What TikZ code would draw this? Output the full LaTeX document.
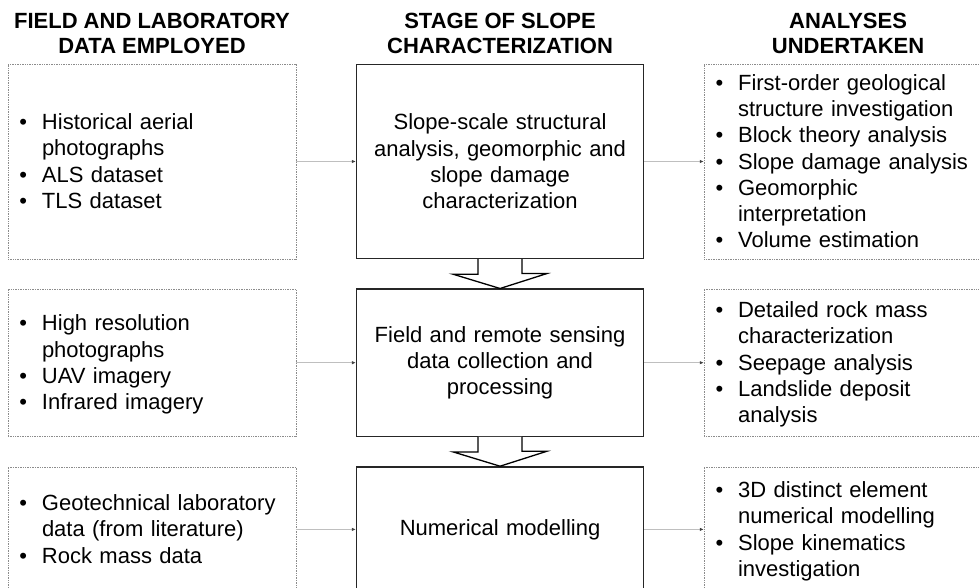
\documentclass[tikz,border=0pt]{standalone}
\usepackage{fontspec}
\setmainfont{Liberation Sans}
\usetikzlibrary{arrows.meta,positioning}

\providecommand{\slopeDotColor}{black!45}
\providecommand{\slopeFeedColor}{black!25}
\providecommand{\slopeTipColor}{black!75}
\providecommand{\slopeStageColor}{black!85}
% bullet rows: bullet column, then text column (first row padded a little)
\newcommand{\bulletrows}[1]{\begin{tabular}{@{}l@{\hspace{14.8pt}}l@{}}\rule{0pt}{23pt}#1\end{tabular}}

\begin{document}
\begin{tikzpicture}[
  every node/.style={font=\fontsize{22}{26.3}\selectfont},
  databox/.style={draw=\slopeDotColor, dash pattern=on 0.8pt off 0.9pt, line width=0.7pt,
    minimum width=288pt, text width=265pt, inner xsep=11.5pt, inner ysep=0pt, align=left},
  stagebox/.style={draw=\slopeStageColor, line width=1.4pt, minimum width=287pt,
    text width=272pt, align=center},
  header/.style={font=\fontsize{22}{25.5}\selectfont\bfseries, align=center, inner sep=0pt},
  feed/.style={draw=\slopeFeedColor, line width=0.8pt,
    -{Latex[length=4pt,width=3.5pt,color=\slopeTipColor]}},
  hollowarrow/.style={draw=black, line width=1.3pt, fill=white, line join=miter}
]
\useasboundingbox (0,0) rectangle (979pt,587pt);
\clip (0,0) rectangle (979pt,587pt);

% Row 1
\node[databox, minimum height=195pt] (d1) at (152pt,425.5pt) {\bulletrows{%
  \textbullet & Historical aerial\\
              & photographs\\
  \textbullet & ALS dataset\\
  \textbullet & TLS dataset}};
\node[stagebox, minimum height=194pt, right=59.5pt of d1] (s1) {Slope-scale structural\\analysis, geomorphic and\\slope damage\\characterization};
\node[databox, minimum height=195pt, right=59.5pt of s1] (a1) {\bulletrows{%
  \textbullet & First-order geological\\
              & structure investigation\\
  \textbullet & Block theory analysis\\
  \textbullet & Slope damage analysis\\
  \textbullet & Geomorphic\\
              & interpretation\\
  \textbullet & Volume estimation}};

% Row 2
\node[databox, minimum height=147pt, below=29.5pt of d1] (d2) {\bulletrows{%
  \textbullet & High resolution\\
              & photographs\\
  \textbullet & UAV imagery\\
  \textbullet & Infrared imagery}};
\node[stagebox, minimum height=147pt, right=59.5pt of d2] (s2) {Field and remote sensing\\data collection and\\processing};
\node[databox, minimum height=147pt, right=59.5pt of s2] (a2) {\bulletrows{%
  \textbullet & Detailed rock mass\\
              & characterization\\
  \textbullet & Seepage analysis\\
  \textbullet & Landslide deposit\\
              & analysis}};

% Row 3
\node[databox, minimum height=125pt, below=30pt of d2] (d3) {\bulletrows{%
  \textbullet & Geotechnical laboratory\\
              & data (from literature)\\
  \textbullet & Rock mass data}};
\node[stagebox, minimum height=125pt, right=59.5pt of d3] (s3) {Numerical modelling};
\node[databox, minimum height=125pt, right=59.5pt of s3] (a3) {\bulletrows{%
  \textbullet & 3D distinct element\\
              & numerical modelling\\
  \textbullet & Slope kinematics\\
              & investigation}};

% Column headers
\node[header, above=9.5pt of d1] (hd) {FIELD AND LABORATORY\\DATA EMPLOYED};
\node[header, above=9.5pt of s1] (hs) {STAGE OF SLOPE\\CHARACTERIZATION};
\node[header, above=9.5pt of a1] (ha) {ANALYSES\\UNDERTAKEN};

% Feeds into and out of each stage
\foreach \r in {1,2,3} {
  \draw[feed] (d\r) -- (s\r);
  \draw[feed] (s\r) -- (a\r);
}

% Hollow arrows between stages
\draw[hollowarrow] ([xshift=-22pt]s1.south) -- ++(0,-15pt) -- ++(-25pt,0) -- (s2.north)
  -- ++(47pt,15pt) -- ++(-25pt,0) -- ([xshift=22pt]s1.south);
\draw[hollowarrow] ([xshift=-22pt]s2.south) -- ++(0,-15pt) -- ++(-25pt,0) -- (s3.north)
  -- ++(47pt,15pt) -- ++(-25pt,0) -- ([xshift=22pt]s2.south);
\end{tikzpicture}
\end{document}
